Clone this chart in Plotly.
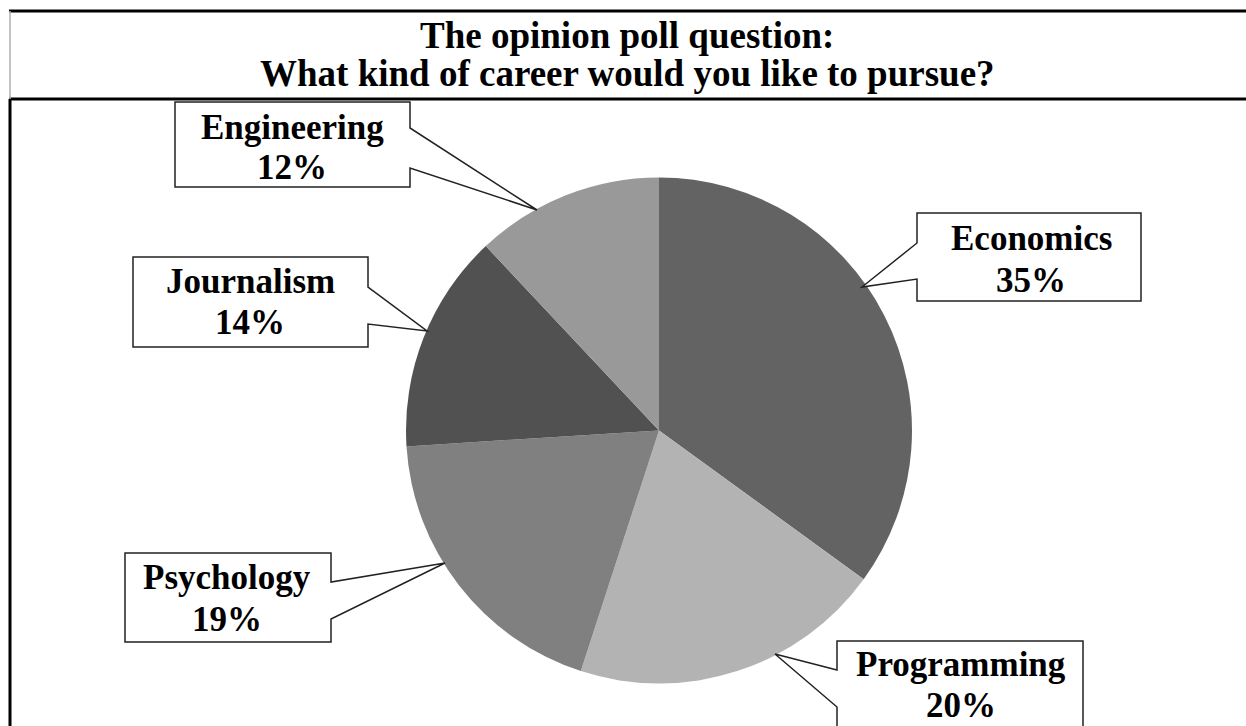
import plotly.graph_objects as go

# ---- data ----
categories = ["Economics", "Programming", "Psychology", "Journalism", "Engineering"]
shares = [35, 20, 19, 14, 12]
slice_colors = ["#636363", "#b3b3b3", "#7f807f", "#515151", "#999999"]
title_lines = ["The opinion poll question:", "What kind of career would you like to pursue?"]

W, H = 1246, 726
FONT = "Liberation Serif, Times New Roman, serif"

# pie geometry (pixels)
cx, cy, r = 659, 430.5, 253

fig = go.Figure()
fig.add_trace(go.Pie(
    labels=categories, values=shares, sort=False, direction="clockwise", rotation=0,
    marker=dict(colors=slice_colors, line=dict(width=0)),
    textinfo="none", hoverinfo="label+percent", showlegend=False,
    domain=dict(x=[(cx - r) / W, (cx + r) / W], y=[1 - (cy + r) / H, 1 - (cy - r) / H]),
))

# callout boxes: (left, top, right, bottom, side, y1, y2, tipx, tipy, textx, line1y, line2y)
callouts = {
    "Engineering": (175, 102, 410, 187, "right", 128, 168, 537, 210, 292, 125, 165),
    "Journalism": (133, 257, 368, 347, "right", 287, 324, 427, 331, 250, 279, 320),
    "Psychology": (125, 553, 331, 642, "right", 582, 619, 445, 563, 227, 575, 617),
    "Economics": (917, 213, 1141, 301, "left", 243, 279, 862, 287, 1031, 236, 278),
    "Programming": (837, 641, 1083, 760, "left", 670, 707, 775, 654, 961, 662, 703),
}

shapes = []
annotations = []
for cat, share in zip(categories, shares):
    l, t, rr, b, side, y1, y2, tx, ty, txx, l1, l2 = callouts[cat]
    if side == "right":
        path = (f"M{l},{t} L{rr},{t} L{rr},{y1} L{tx},{ty} L{rr},{y2} "
                f"L{rr},{b} L{l},{b} Z")
    else:
        path = (f"M{l},{t} L{rr},{t} L{rr},{b} L{l},{b} L{l},{y2} "
                f"L{tx},{ty} L{l},{y1} Z")
    shapes.append(dict(type="path", path=path, xref="x", yref="y",
                       fillcolor="white", line=dict(color="#222222", width=1.5),
                       layer="above"))
    annotations.append(dict(x=txx, y=l1 + 2, xref="x", yref="y", text=f"<b>{cat}</b>",
                            showarrow=False, xanchor="center", yanchor="middle",
                            font=dict(family=FONT, size=35, color="black")))
    annotations.append(dict(x=txx, y=l2 + 2, xref="x", yref="y", text=f"<b>{share}%</b>",
                            showarrow=False, xanchor="center", yanchor="middle",
                            font=dict(family=FONT, size=35, color="black")))

# title
for i, line in enumerate(title_lines):
    annotations.append(dict(x=627, y=[35, 73][i], xref="x", yref="y", text=f"<b>{line}</b>",
                            showarrow=False, xanchor="center", yanchor="middle",
                            font=dict(family=FONT, size=37, color="black")))

# frame lines
shapes += [
    dict(type="line", xref="x", yref="y", x0=9, x1=W, y0=11, y1=11, line=dict(color="black", width=3)),
    dict(type="line", xref="x", yref="y", x0=9, x1=W, y0=99, y1=99, line=dict(color="black", width=3)),
    dict(type="line", xref="x", yref="y", x0=10, x1=10, y0=11, y1=99, line=dict(color="#b0b0b0", width=1.5)),
    dict(type="line", xref="x", yref="y", x0=10, x1=10, y0=99, y1=H, line=dict(color="black", width=3)),
]

fig.update_layout(
    width=W, height=H, margin=dict(l=0, r=0, t=0, b=0),
    paper_bgcolor="white", plot_bgcolor="white",
    xaxis=dict(range=[0, W], visible=False, fixedrange=True),
    yaxis=dict(range=[H, 0], visible=False, fixedrange=True),
    shapes=shapes, annotations=annotations, showlegend=False,
)

fig.write_html("out.html")
